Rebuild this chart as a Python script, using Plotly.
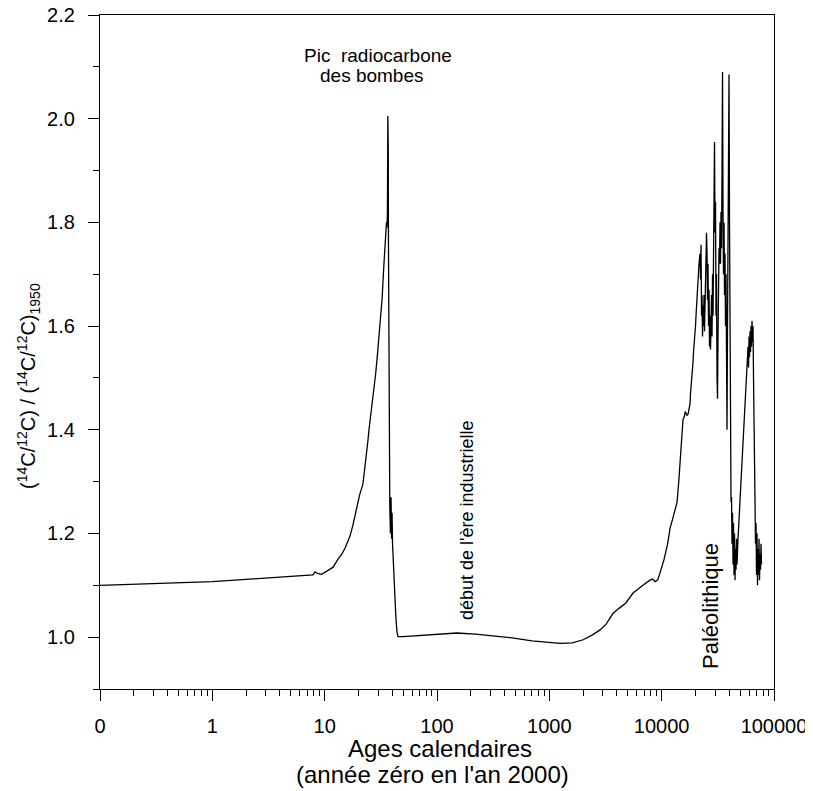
import plotly.graph_objects as go

# ---- data: calendar age (years before 2000) and 14C/12C ratio normalised to 1950 ----
ages_recent = [0.1, 0.3, 1, 2.16, 4, 7, 7.87, 8.2, 8.6, 9.4, 10.2, 11.2, 11.9, 13.1, 14.2,
               15.2, 16.8, 17.8, 18.6, 19.2, 19.8, 20.5, 21.9, 22.5, 23.3, 23.8, 24.3, 24.8,
               25.5, 26.5, 27.5, 28.5, 29.5, 30.5, 31.5, 32.5, 33.5, 34.4, 35.0, 35.5, 35.9,
               36.2, 36.5, 36.8, 37.0, 37.3, 37.6, 38.0, 38.5, 39.0, 39.4, 39.8, 40.2, 41.0,
               42.0, 43.0, 44.0, 45.0]
ratio_recent = [1.100, 1.103, 1.107, 1.112, 1.116, 1.119, 1.120, 1.126, 1.123, 1.121, 1.126,
                1.131, 1.135, 1.150, 1.160, 1.172, 1.195, 1.215, 1.235, 1.250, 1.260, 1.275,
                1.295, 1.315, 1.340, 1.360, 1.380, 1.400, 1.420, 1.450, 1.480, 1.510, 1.545,
                1.580, 1.615, 1.655, 1.710, 1.760, 1.790, 1.800, 1.790, 1.820, 2.005, 1.950,
                1.750, 1.550, 1.350, 1.250, 1.200, 1.270, 1.190, 1.240, 1.180, 1.130, 1.080,
                1.040, 1.010, 1.001]

ages_holocene = [50, 70, 100, 150, 220, 300, 450, 700, 1000, 1250, 1600, 2000, 2400, 2830,
                 3200, 3700, 4200, 4800, 5560, 6300, 7000, 7870, 8300, 8730, 9200, 9670,
                 10500, 11300, 11870, 12600, 13200, 13700, 14200, 14700, 15200, 15490, 15900,
                 16200, 16500, 16800]
ratio_holocene = [1.001, 1.003, 1.006, 1.008, 1.006, 1.003, 0.999, 0.993, 0.990, 0.988, 0.989,
                  0.995, 1.004, 1.014, 1.025, 1.046, 1.056, 1.066, 1.085, 1.095, 1.102, 1.110,
                  1.112, 1.107, 1.110, 1.124, 1.150, 1.180, 1.210, 1.230, 1.245, 1.260, 1.300,
                  1.350, 1.400, 1.420, 1.425, 1.435, 1.432, 1.428]

ages_glacial = [17170, 17340, 17520, 17700, 17880, 18060, 18250, 18440, 18630, 18820, 19010,
                19210, 19410, 19610, 19810, 20010, 20220, 20430, 20640, 20850, 21070, 21280,
                21500, 21730, 21950, 22180, 22410, 22640, 22870, 23110, 23340, 23590, 23830,
                24070, 24320, 24570, 24820, 25080, 25340, 25600, 25860, 26130, 26400, 26670,
                26940, 27220, 27500, 27780, 28070, 28360, 28650, 28940, 29240, 29540, 29850,
                30150, 30470, 30780, 31100, 31420, 31740, 32070, 32400, 32730, 33070, 33410,
                33750, 34100, 34450, 34810, 35170, 35530, 35900, 36270, 36640, 37020, 37400,
                37780, 38170, 38570, 38960, 39370, 39770, 40180, 40600, 41010, 41440, 41870,
                42290, 42730, 43170, 43610, 44060, 44520, 44980, 45440, 45910, 46380, 46860,
                47830, 49830, 51920, 54090, 56360, 57530, 58720, 59330, 59940, 60550, 61170,
                61800, 62440, 63080, 63730, 64380, 65050, 65720, 66400, 67080, 67770, 68470,
                69170, 69890, 70610, 71330, 72070, 72810, 73560, 74320, 75090, 75860, 76640,
                77430]
ratio_glacial = [1.430, 1.435, 1.440, 1.445, 1.450, 1.470, 1.480, 1.490, 1.500, 1.520, 1.530,
                 1.550, 1.560, 1.570, 1.580, 1.600, 1.620, 1.640, 1.660, 1.680, 1.700, 1.710,
                 1.720, 1.730, 1.740, 1.690, 1.757, 1.620, 1.660, 1.580, 1.640, 1.600, 1.660,
                 1.590, 1.630, 1.700, 1.750, 1.780, 1.740, 1.650, 1.720, 1.600, 1.670, 1.560,
                 1.620, 1.555, 1.600, 1.660, 1.580, 1.700, 1.620, 1.700, 1.780, 1.955, 1.780,
                 1.840, 1.620, 1.700, 1.500, 1.460, 1.580, 1.670, 1.750, 1.720, 1.800, 1.720,
                 1.820, 1.750, 1.900, 2.090, 1.820, 1.700, 1.800, 1.660, 1.740, 1.600, 1.700,
                 1.500, 1.400, 1.600, 1.800, 1.950, 2.085, 1.800, 1.550, 1.350, 1.260, 1.270,
                 1.180, 1.240, 1.140, 1.220, 1.120, 1.200, 1.110, 1.170, 1.130, 1.190, 1.140,
                 1.190, 1.260, 1.330, 1.400, 1.470, 1.500, 1.560, 1.520, 1.580, 1.540, 1.590,
                 1.550, 1.600, 1.560, 1.610, 1.570, 1.600, 1.500, 1.400, 1.320, 1.250, 1.180,
                 1.220, 1.120, 1.200, 1.100, 1.170, 1.120, 1.190, 1.110, 1.160, 1.130, 1.180,
                 1.140]

x_tick_vals = [0.1, 1, 10, 100, 1000, 10000, 100000]
x_tick_text = ["0", "1", "10", "100", "1000", "10000", "100000"]
y_tick_vals = [1.0, 1.2, 1.4, 1.6, 1.8, 2.0, 2.2]

ages = ages_recent + ages_holocene + ages_glacial
ratio = ratio_recent + ratio_holocene + ratio_glacial

minor_x = [k * 10 ** d for d in range(-1, 5) for k in range(2, 10)]

FONT = "Liberation Sans, Arial, Helvetica, sans-serif"

# page body has an 8px margin: figure is sized so the plot lands where the reference has it
W, H = 805, 783
L, T, R, B = 92, 7, 39, 102
PW, PH = W - L - R, H - T - B


def px(xpage):
    return (xpage - 8 - L) / PW


def py(ypage):
    return (H - B - (ypage - 8)) / PH


fig = go.Figure()
fig.add_trace(go.Scatter(x=ages, y=ratio, mode="lines",
                         line=dict(color="black", width=1.3), showlegend=False,
                         hoverinfo="skip"))

fig.update_layout(
    width=W, height=H,
    margin=dict(l=L, r=R, t=T, b=B, autoexpand=False),
    paper_bgcolor="white", plot_bgcolor="white",
    font=dict(family=FONT, color="black", size=20),
    xaxis=dict(type="log", range=[-1, 5], tickmode="array", tickvals=x_tick_vals,
               ticktext=x_tick_text, ticks="outside", ticklen=11, tickwidth=1.2,
               tickcolor="black", showline=True, linecolor="black", linewidth=1.3,
               mirror=True, showgrid=False, zeroline=False, automargin=False,
               ticklabeloverflow="allow",
               tickfont=dict(size=20, family=FONT), ticklabelstandoff=8,
               minor=dict(tickmode="array", tickvals=minor_x, ticks="outside",
                          ticklen=6, tickwidth=1.1, tickcolor="black", showgrid=False)),
    yaxis=dict(range=[0.9, 2.2], tickmode="array", tickvals=y_tick_vals,
               tickformat=".1f", ticks="outside", ticklen=11, tickwidth=1.2,
               tickcolor="black", showline=True, linecolor="black", linewidth=1.3,
               mirror=True, showgrid=False, zeroline=False, automargin=False,
               ticklabeloverflow="allow",
               tickfont=dict(size=20, family=FONT), ticklabelstandoff=9,
               minor=dict(dtick=0.1, tick0=0.9, ticks="outside", ticklen=6,
                          tickwidth=1.1, tickcolor="black", showgrid=False)),
)

annotations = [
    dict(text="Pic\u00a0 radiocarbone", x=px(378), y=py(55), xref="paper", yref="paper",
         showarrow=False, font=dict(size=19), xanchor="center", yanchor="middle"),
    dict(text="des bombes", x=px(372), y=py(76), xref="paper", yref="paper",
         showarrow=False, font=dict(size=19), xanchor="center", yanchor="middle"),
    dict(text="début de l'ère industrielle", x=px(467), y=py(520), xref="paper",
         yref="paper", showarrow=False, textangle=-90, font=dict(size=18),
         xanchor="center", yanchor="middle"),
    dict(text="Paléolithique", x=px(710), y=py(606), xref="paper", yref="paper",
         showarrow=False, textangle=-90, font=dict(size=22),
         xanchor="center", yanchor="middle"),
    dict(text="Ages calendaires", x=px(440), y=py(748), xref="paper", yref="paper",
         showarrow=False, font=dict(size=24), xanchor="center", yanchor="middle"),
    dict(text="(année zéro en l'an 2000)", x=px(432), y=py(774), xref="paper",
         yref="paper", showarrow=False, font=dict(size=24), xanchor="center",
         yanchor="middle"),
    dict(text="(<sup>14</sup>C/<sup>12</sup>C) / (<sup>14</sup>C/<sup>12</sup>C)<sub>1950</sub>",
         x=px(28), y=py(386), xref="paper", yref="paper",
         showarrow=False, textangle=-90, font=dict(size=20), xanchor="center",
         yanchor="middle"),
]
fig.update_layout(annotations=annotations)

fig.write_html("out.html")
